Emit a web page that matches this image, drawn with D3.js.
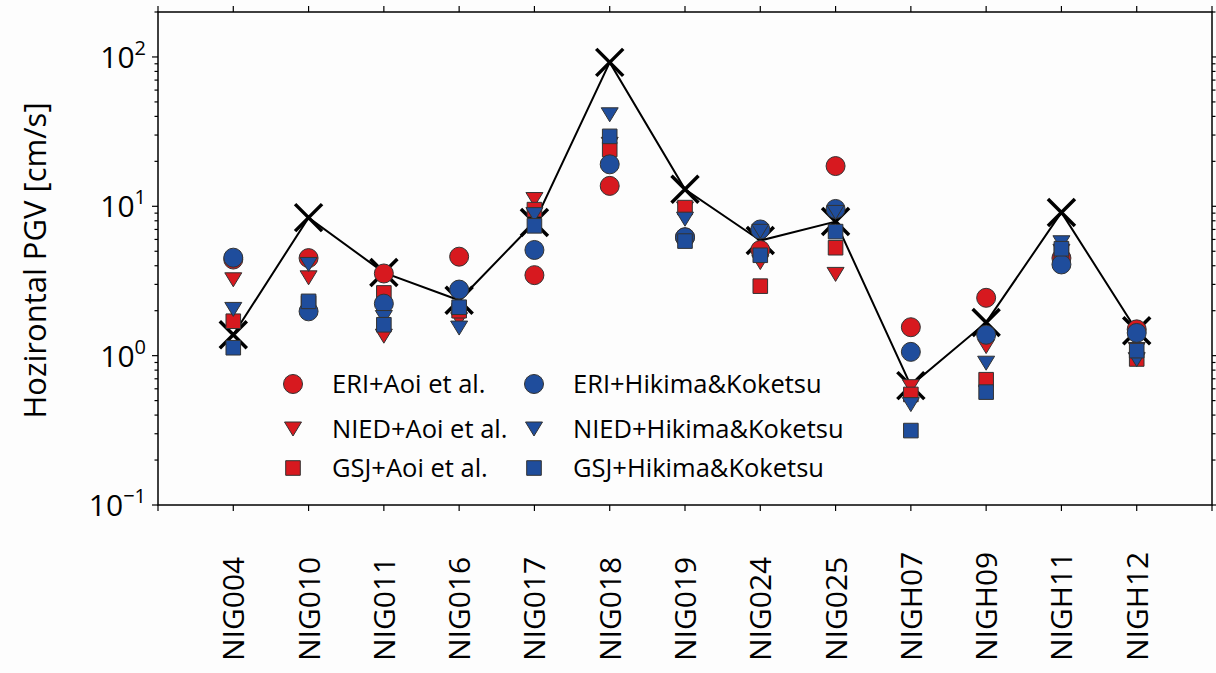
<!DOCTYPE html>
<html>
<head>
<meta charset="utf-8">
<script src="https://cdn.jsdelivr.net/npm/d3@7"></script>
<style>
  html, body { margin: 0; padding: 0; background: #fdfdfd; }
  svg { display: block; }
  text { font-family: "Open Sans", "Noto Sans", sans-serif; fill: #000; }
</style>
</head>
<body>
<svg id="chart" width="1216" height="673"></svg>
<script>
// ---------- data ----------
const stations = ["NIG004","NIG010","NIG011","NIG016","NIG017","NIG018","NIG019","NIG024","NIG025","NIGH07","NIGH09","NIGH11","NIGH12"];
const observed  = [1.38, 8.4, 3.6, 2.35, 7.8, 92, 13.0, 5.9, 7.9, 0.63, 1.67, 9.1, 1.47];
const eriAoi    = [4.4, 4.5, 3.55, 4.6, 3.46, 13.7, 6.2, 5.1, 18.6, 1.55, 2.44, 4.5, 1.5];
const niedAoi   = [3.22, 3.32, 1.35, 1.74, 11.1, 26, 9.6, 4.2, 3.5, 0.62, 1.15, 5.0, 1.1];
const gsjAoi    = [1.70, 2.25, 2.63, 2.0, 9.5, 24, 9.8, 2.92, 5.28, 0.55, 0.69, 4.9, 0.95];
const eriHK     = [4.53, 1.98, 2.23, 2.77, 5.1, 19.1, 6.2, 7.0, 9.6, 1.06, 1.38, 4.08, 1.42];
const niedHK    = [2.04, 4.08, 1.80, 1.53, 8.8, 41, 8.2, 6.8, 9.1, 0.47, 0.89, 5.7, 0.94];
const gsjHK     = [1.13, 2.31, 1.61, 2.11, 7.4, 29.4, 5.85, 4.7, 6.77, 0.315, 0.57, 5.2, 1.08];
const yTickValues = [0.1, 1, 10, 100];
const yTickExps   = ["\u22121", "0", "1", "2"];
const yLabel = "Hozirontal PGV [cm/s]";

const RED = "#d7191f", BLUE = "#1f4d9c";
const series = [
  { name: "ERI+Aoi et al.",        values: eriAoi,  color: RED,  shape: "circle" },
  { name: "NIED+Aoi et al.",       values: niedAoi, color: RED,  shape: "triangle" },
  { name: "GSJ+Aoi et al.",        values: gsjAoi,  color: RED,  shape: "square" },
  { name: "ERI+Hikima&Koketsu",    values: eriHK,   color: BLUE, shape: "circle" },
  { name: "NIED+Hikima&Koketsu",   values: niedHK,  color: BLUE, shape: "triangle" },
  { name: "GSJ+Hikima&Koketsu",    values: gsjHK,   color: BLUE, shape: "square" }
];

// ---------- layout ----------
const L = 158, R = 1212, T = 12, B = 505;
const svg = d3.select("#chart");

const x = d3.scalePoint().domain(stations).range([L, R]).padding(1);
const y = d3.scaleLog().domain([0.1, 200]).range([B, T]);

// frame
svg.append("rect").attr("x", L).attr("y", T).attr("width", R - L).attr("height", B - T)
  .attr("fill", "none").attr("stroke", "#000").attr("stroke-width", 1.5);

// ---------- axes ----------
const minorVals = [];
for (let e = -1; e <= 2; e++) for (let m = 1; m <= 9; m++) {
  const v = m * Math.pow(10, e);
  if (v >= 0.1 && v <= 200) minorVals.push(v);
}
const gY = svg.append("g");
minorVals.forEach(v => {
  const major = yTickValues.some(t => Math.abs(t - v) / t < 1e-9);
  const len = major ? 6 : 3.5;
  gY.append("line").attr("x1", L - len).attr("x2", L).attr("y1", y(v)).attr("y2", y(v))
    .attr("stroke", "#000").attr("stroke-width", 1.2);
  gY.append("line").attr("x1", R).attr("x2", R + len).attr("y1", y(v)).attr("y2", y(v))
    .attr("stroke", "#000").attr("stroke-width", 1.2);
});
yTickValues.forEach((v, i) => {
  const t = gY.append("text").attr("x", 146).attr("y", y(v) + 11)
    .attr("text-anchor", "end").style("font-size", "30px");
  t.append("tspan").text("10");
  t.append("tspan").attr("dy", -13).style("font-size", "20px").text(yTickExps[i]);
});
svg.append("text").attr("transform", `translate(46,${(T + B) / 2 + 2}) rotate(-90)`)
  .attr("text-anchor", "middle").style("font-size", "31px").text(yLabel);

const gX = svg.append("g");
stations.forEach(s => {
  gX.append("line").attr("x1", x(s)).attr("x2", x(s)).attr("y1", B).attr("y2", B + 6)
    .attr("stroke", "#000").attr("stroke-width", 1.2);
  gX.append("line").attr("x1", x(s)).attr("x2", x(s)).attr("y1", T - 6).attr("y2", T)
    .attr("stroke", "#000").attr("stroke-width", 1.2);
  gX.append("text").attr("transform", `translate(${x(s) + 11},661) rotate(-90)`)
    .attr("text-anchor", "start").style("font-size", "30px").text(s);
});
[L, R].forEach(px => {
  gX.append("line").attr("x1", px).attr("x2", px).attr("y1", B).attr("y2", B + 6).attr("stroke", "#000").attr("stroke-width", 1.2);
  gX.append("line").attr("x1", px).attr("x2", px).attr("y1", T - 6).attr("y2", T).attr("stroke", "#000").attr("stroke-width", 1.2);
});

// ---------- observed line + X markers ----------
const line = d3.line().x((d, i) => x(stations[i])).y(d => y(d));
svg.append("path").datum(observed).attr("d", line)
  .attr("fill", "none").attr("stroke", "#000").attr("stroke-width", 2);
const XS = 13.5;
svg.append("g").selectAll("path").data(observed).join("path")
  .attr("d", (d, i) => {
    const cx = x(stations[i]), cy = y(d);
    return `M${cx - XS},${cy - XS}L${cx + XS},${cy + XS}M${cx - XS},${cy + XS}L${cx + XS},${cy - XS}`;
  })
  .attr("stroke", "#000").attr("stroke-width", 3.5).attr("fill", "none");

// ---------- markers ----------
function shapePath(shape, cx, cy) {
  if (shape === "circle") {
    const r = 9.5;
    return `M${cx - r},${cy}a${r},${r} 0 1,0 ${2 * r},0a${r},${r} 0 1,0 ${-2 * r},0Z`;
  } else if (shape === "triangle") {
    const w = 8.5, h = 7;
    return `M${cx - w},${cy - h}L${cx + w},${cy - h}L${cx},${cy + h}Z`;
  } else {
    const s = 7.3;
    return `M${cx - s},${cy - s}h${2 * s}v${2 * s}h${-2 * s}Z`;
  }
}
series.forEach(se => {
  svg.append("g").selectAll("path").data(se.values).join("path")
    .attr("d", (d, i) => shapePath(se.shape, x(stations[i]), y(d)))
    .attr("fill", se.color).attr("stroke", "#333").attr("stroke-width", 1);
});

// ---------- legend ----------
const legCols = [{ mx: 293, tx: 332 }, { mx: 534, tx: 573 }];
const legRows = [384, 429, 468];
series.forEach((se, k) => {
  const col = legCols[Math.floor(k / 3)], row = legRows[k % 3];
  svg.append("path").attr("d", shapePath(se.shape, col.mx, row))
    .attr("fill", se.color).attr("stroke", "#333").attr("stroke-width", 1);
  svg.append("text").attr("x", col.tx).attr("y", row + 9).style("font-size", "25.5px").text(se.name);
});
</script>
</body>
</html>
